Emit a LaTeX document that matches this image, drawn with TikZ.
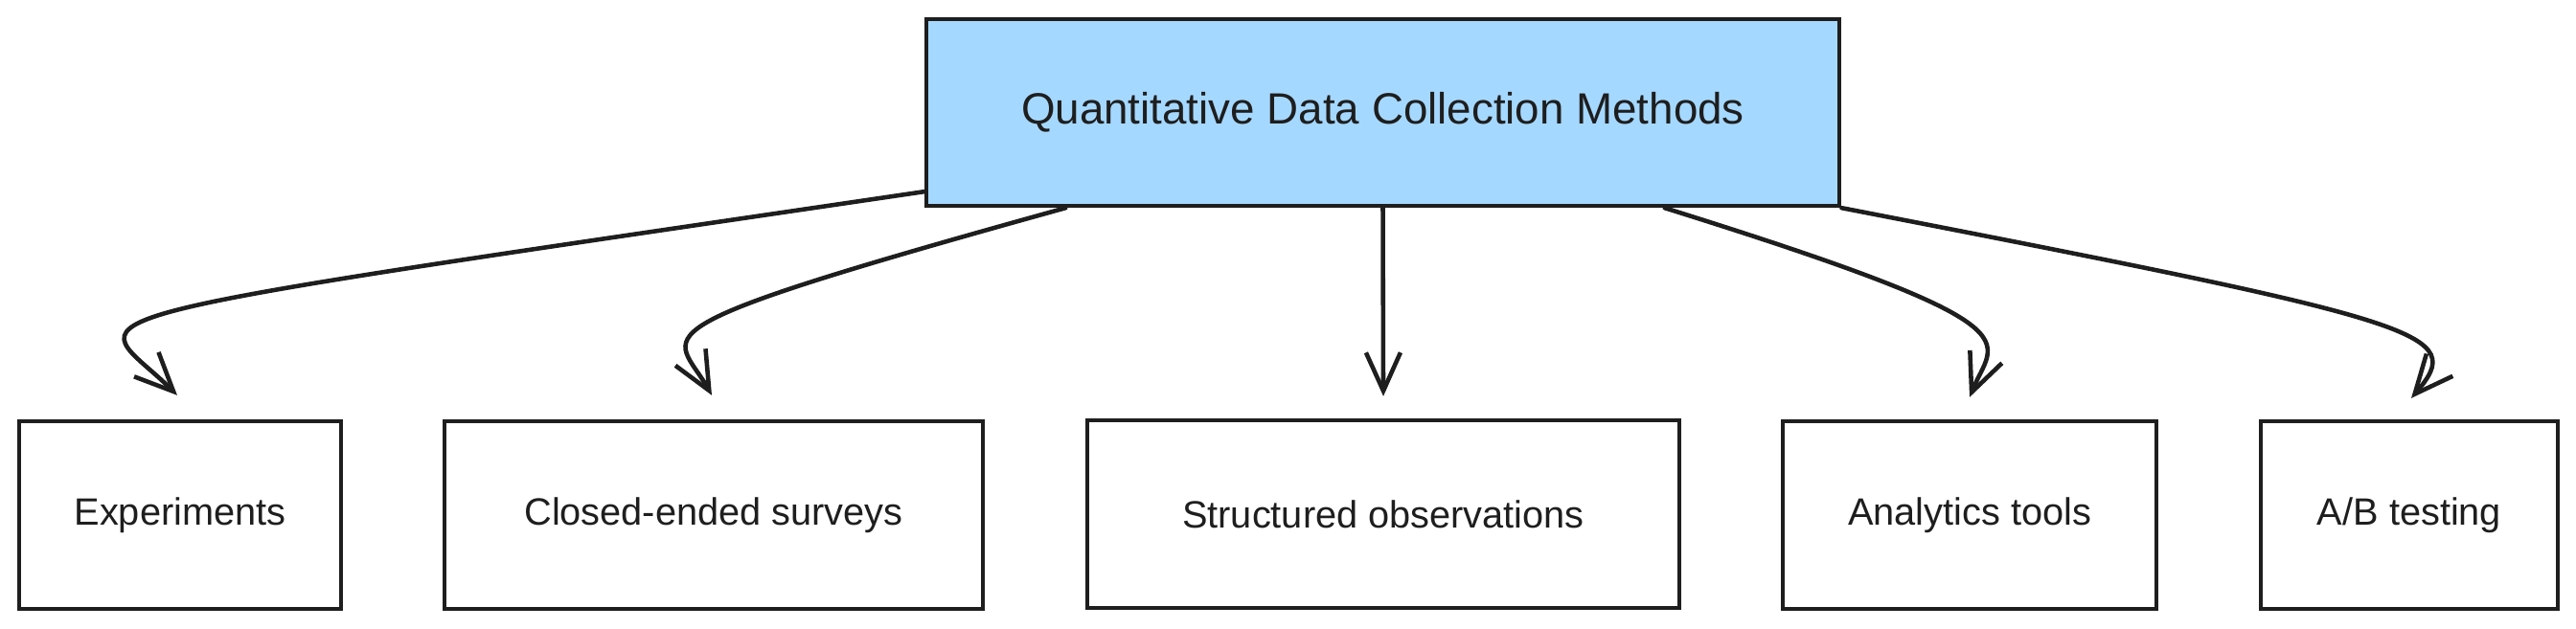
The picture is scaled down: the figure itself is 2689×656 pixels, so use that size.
\documentclass[tikz,border=0pt]{standalone}
\usepackage{fontspec}
\setmainfont{Liberation Sans}
\usepackage{xcolor}
\usepackage{tikz}
\usetikzlibrary{arrows.meta}

\definecolor{inkdark}{HTML}{1E1E1E}
\definecolor{skyfill}{HTML}{A5D8FF}

\begin{document}
\begin{tikzpicture}[
                x=0.01cm,
                y=-0.01cm,
                methodbox/.style={
                    draw=inkdark,
                    line width=1.2pt,
                    minimum height=1.96cm,
                    inner sep=0pt,
                    font=\fontsize{11.3}{13}\selectfont,
                    text=inkdark
                    },
                headbox/.style={
                    methodbox,
                    fill=skyfill,
                    minimum width=9.53cm,
                    minimum height=1.95cm,
                    font=\fontsize{13}{15}\selectfont
                    },
                flow/.style={
                    draw=inkdark,
                    line width=1.3pt,
                    line cap=round,
                    -{Straight Barb[length=0.4cm,width=0.36cm,line width=1.3pt]}
                    }
                ]
                \useasboundingbox (0,0) rectangle (2689,656);

                \node[headbox] (main) at (1443.5,117.5) {Quantitative Data Collection Methods};

                \node[methodbox, minimum width=3.36cm] (exp) at (188,538) {Experiments};
                \node[methodbox, minimum width=5.62cm] (closed) at (745,538) {Closed-ended surveys};
                \node[methodbox, minimum width=6.18cm] (struct) at (1444,537) {Structured observations};
                \node[methodbox, minimum width=3.90cm] (anal) at (2056,538) {Analytics tools};
                \node[methodbox, minimum width=3.10cm] (ab) at (2515,538) {A/B testing};

                \draw[flow] ([yshift=0.17cm]main.south west)
                    .. controls +(-964,142) and +(-90,-90) .. ([xshift=-0.03cm,yshift=0.25cm]exp.north);

                \draw[flow] ([xshift=-3.31cm]main.south)
                    .. controls +(-472,131) and +(-38,-68) .. ([xshift=-0.02cm,yshift=0.25cm]closed.north);

                \draw[flow] (main.south) -- ([yshift=0.23cm]struct.north);

                \draw[flow] ([xshift=2.94cm]main.south)
                    .. controls +(400,125) and +(25,-62) .. ([yshift=0.23cm]anal.north);

                \draw[flow] (main.south east)
                    .. controls +(618,120) and +(58,-68) .. ([xshift=0.02cm,yshift=0.22cm]ab.north);

             \end{tikzpicture}
\end{document}
